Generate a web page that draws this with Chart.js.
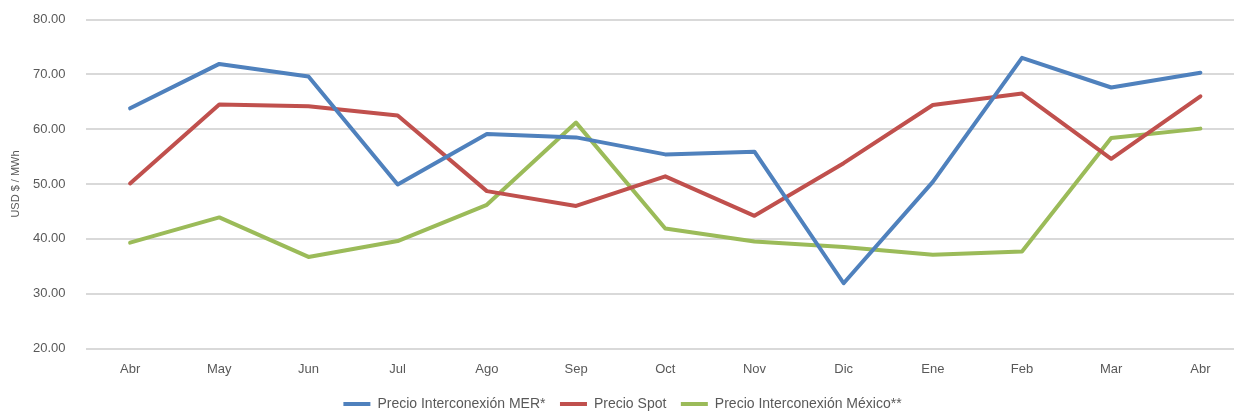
<!DOCTYPE html>
<html>
<head>
<meta charset="utf-8">
<script src="https://cdn.jsdelivr.net/npm/chart.js@4/dist/chart.umd.min.js"></script>
<style>
  html, body { margin: 0; padding: 0; background: #fff; overflow: hidden; }
  #wrap { width: 1245px; height: 412px; }
</style>
</head>
<body>
<div id="wrap"><canvas id="chartPrecios" width="1245" height="412"></canvas></div>
<script>
var months = ["Abr", "May", "Jun", "Jul", "Ago", "Sep", "Oct", "Nov", "Dic", "Ene", "Feb", "Mar", "Abr"];
var precioMER = [63.8, 71.9, 69.6, 49.9, 59.1, 58.5, 55.4, 55.9, 31.9, 50.4, 73.0, 67.6, 70.3];
var precioSpot = [50.1, 64.5, 64.2, 62.5, 48.7, 46.0, 51.4, 44.2, 53.8, 64.4, 66.5, 54.6, 66.0];
var precioMexico = [39.3, 43.9, 36.7, 39.6, 46.2, 61.2, 41.9, 39.5, 38.5, 37.1, 37.7, 58.4, 60.1];

var seriesNames = ["Precio Interconexión MER*", "Precio Spot", "Precio Interconexión México**"];
var seriesColors = ["#4F81BD", "#C0504D", "#9BBB59"];

var fontFamily = "'Liberation Sans', Arial, sans-serif";
var textColor = "#595959";

function makeSet(i, values) {
	return {
		label: seriesNames[i],
		data: values,
		borderColor: seriesColors[i],
		backgroundColor: seriesColors[i],
		borderWidth: 4,
		borderCapStyle: "round",
		borderJoinStyle: "round",
		pointRadius: 0,
		pointHoverRadius: 0,
		tension: 0,
		fill: false
	};
}

var chart = new Chart(document.getElementById("chartPrecios").getContext("2d"), {
	type: "line",
	data: {
		labels: months,
		datasets: [makeSet(0, precioMER), makeSet(1, precioSpot), makeSet(2, precioMexico)]
	},
	options: {
		responsive: false,
		animation: false,
		devicePixelRatio: 1,
		layout: { padding: { top: 19.5, left: 0, right: 0, bottom: 0 } },
		plugins: {
			tooltip: { enabled: false },
			legend: {
				position: "bottom",
				maxHeight: 29.5,
				labels: {
					boxWidth: 27,
					boxHeight: 4,
					padding: 14.5,
					color: textColor,
					font: { family: fontFamily, size: 14 },
					generateLabels: function(c) {
						var items = Chart.defaults.plugins.legend.labels.generateLabels(c);
						items.forEach(function(it) { it.lineWidth = 0; });
						return items;
					}
				}
			}
		},
		scales: {
			x: {
				offset: true,
				grid: { display: false, drawTicks: false },
				border: { display: false },
				ticks: {
					color: textColor,
					padding: 13,
					maxRotation: 0,
					font: { family: fontFamily, size: 13 }
				},
				afterFit: function(scale) { scale.height = 34; }
			},
			y: {
				min: 20,
				max: 80,
				grid: { color: "#D9D9D9", lineWidth: 2, drawTicks: false },
				border: { display: false },
				ticks: {
					stepSize: 10,
					padding: 20,
					color: textColor,
					font: { family: fontFamily, size: 13 },
					callback: function(v) { return Number(v).toFixed(2); }
				},
				title: {
					display: true,
					text: "USD $ / MWh",
					color: textColor,
					padding: { top: 9, bottom: 0 },
					font: { family: fontFamily, size: 11 }
				},
				afterFit: function(scale) {
					// tick padding should only push labels sideways, not shrink the plot
					scale.width = 85.5;
					scale.paddingTop = 0;
					scale.paddingBottom = 0;
				}
			}
		}
	}
});
</script>
</body>
</html>
